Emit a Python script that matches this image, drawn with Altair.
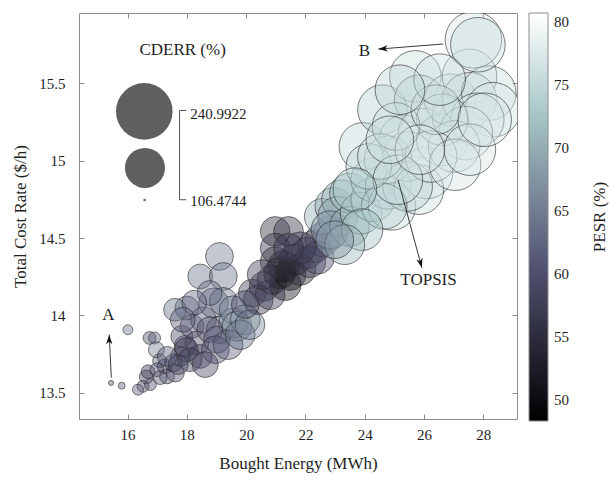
import altair as alt
import pandas as pd

# ---------------- data ----------------
bought_energy = [15.44, 15.80, 16.01, 16.74, 16.91, 16.97, 17.08, 16.63, 16.52, 16.35,
                 16.77, 16.69, 17.25, 16.99, 17.33, 17.61, 17.55, 17.78, 17.94, 17.83,
                 18.00, 18.17, 18.34, 18.45, 18.56, 18.90, 19.12, 19.57, 17.60, 18.45,
                 19.10, 19.23, 19.23, 19.56, 18.77, 18.25, 17.86, 18.77, 19.02, 19.69,
                 19.97, 17.98, 17.34, 18.11, 17.71, 17.10, 18.96, 19.39, 19.80, 20.13,
                 18.62, 20.21, 20.61, 20.87, 21.13, 21.26, 21.65, 22.05, 22.31, 22.57,
                 22.83, 20.41, 20.81, 21.32, 21.48, 21.82, 22.15, 22.42, 20.98, 20.54,
                 19.97, 21.82, 20.98, 21.43, 20.98, 21.43, 22.57, 22.96, 23.22, 23.09,
                 23.49, 22.83, 23.49, 23.88, 24.27, 24.27, 24.79, 24.92, 23.94, 24.60,
                 25.71, 25.84, 25.32, 25.97, 26.10, 25.45, 24.79, 26.62, 27.15, 26.89,
                 27.54, 27.54, 28.19, 28.33, 27.80, 27.41, 27.02, 27.67, 27.82, 25.83,
                 25.45, 24.66, 26.62, 26.24, 24.14, 24.53, 25.06, 25.12, 26.40, 27.05,
                 27.55, 28.05, 25.86, 24.85, 23.67, 23.91, 23.33, 22.99, 26.53, 25.19]
total_cost_rate = [13.565, 13.547, 13.908, 13.855, 13.855, 13.779, 13.708, 13.603, 13.543, 13.521,
                   13.554, 13.637, 13.672, 13.650, 13.607, 13.629, 13.694, 13.736, 13.801, 13.865,
                   14.048, 13.930, 13.823, 13.736, 13.973, 14.081, 13.908, 13.952, 14.037, 14.252,
                   14.381, 14.252, 14.091, 14.037, 14.145, 14.083, 13.973, 13.908, 13.844, 13.930,
                   13.973, 13.779, 13.736, 13.715, 13.683, 13.599, 13.779, 13.812, 13.876, 13.941,
                   13.683, 14.145, 14.188, 14.231, 14.274, 14.317, 14.360, 14.403, 14.446, 14.489,
                   14.532, 14.102, 14.134, 14.199, 14.264, 14.297, 14.347, 14.373, 14.347, 14.264,
                   14.070, 14.437, 14.542, 14.542, 14.435, 14.435, 14.639, 14.704, 14.747, 14.639,
                   14.790, 14.554, 14.575, 14.661, 14.747, 14.876, 14.833, 14.704, 15.091, 15.328,
                   15.543, 15.392, 15.134, 15.177, 14.919, 15.026, 15.005, 15.134, 15.285, 15.392,
                   15.543, 15.392, 15.435, 15.328, 15.263, 15.177, 15.091, 15.779, 15.747, 14.812,
                   14.833, 14.704, 15.263, 15.026, 14.962, 15.026, 15.220, 14.876, 15.328, 14.973,
                   15.070, 15.263, 15.070, 15.134, 14.812, 14.554, 14.457, 14.489, 15.522, 15.457]
cderr = [107.3, 108.2, 110.4, 113.2, 112.2, 116.8, 114.3, 114.3, 112.2, 111.3,
         112.2, 114.3, 115.5, 114.3, 115.5, 119.7, 119.7, 122.8, 126.3, 126.3,
         130.1, 130.1, 130.1, 130.1, 134.3, 143.5, 138.7, 143.5, 128.0, 132.1,
         138.7, 138.7, 138.7, 138.7, 132.1, 132.1, 132.1, 134.3, 136.5, 143.5,
         143.5, 130.1, 122.8, 130.1, 122.8, 114.3, 138.7, 143.5, 143.5, 143.5,
         134.3, 138.7, 143.5, 143.5, 148.7, 148.7, 148.7, 148.7, 151.4, 154.2,
         154.2, 143.5, 143.5, 148.7, 148.7, 148.7, 148.7, 151.4, 143.5, 143.5,
         138.7, 148.7, 143.5, 143.5, 143.5, 143.5, 160.0, 166.1, 172.6, 172.6,
         172.6, 166.1, 172.6, 179.4, 186.5, 186.5, 194.0, 201.8, 201.8, 209.9,
         218.4, 209.9, 209.9, 209.9, 218.4, 209.9, 201.8, 218.4, 218.4, 218.4,
         231.7, 231.7, 231.7, 231.7, 227.2, 227.2, 218.4, 241.0, 231.7, 209.9,
         209.9, 194.0, 218.4, 218.4, 194.0, 194.0, 201.8, 209.9, 209.9, 218.4,
         218.4, 227.2, 209.9, 201.8, 186.5, 179.4, 172.6, 166.1, 218.4, 209.9]
pesr = [62, 62, 64, 60, 62, 65, 62, 58, 60, 62,
        60, 57, 58, 60, 60, 60, 58, 58, 58, 60,
        63, 61, 60, 60, 62, 63, 62, 66, 64, 64,
        65, 64, 64, 66, 63, 63, 62, 61, 62, 68,
        68, 58, 62, 58, 59, 61, 60, 62, 64, 66,
        59, 58, 57, 56, 54, 50, 53, 56, 58, 62,
        64, 57, 58, 52, 51, 55, 57, 60, 55, 58,
        60, 57, 55, 56, 56, 57, 70, 70, 71, 69,
        72, 67, 70, 73, 74, 75, 75, 76, 75, 74,
        76, 75, 76, 77, 77, 77, 76, 77, 77, 76,
        77, 76, 76, 77, 77, 77, 77, 77, 76, 76,
        75, 74, 76, 77, 75, 76, 76, 76, 76, 77,
        77, 77, 77, 76, 73, 72, 71, 68, 76, 75]

x_ticks = [16, 18, 20, 22, 24, 26, 28]
y_ticks = [13.5, 14, 14.5, 15, 15.5]
pesr_ticks = [50, 55, 60, 65, 70, 75, 80]

# bubble-size legend (CDERR)
legend_sizes = [240.9922, 173.7333, 106.4744]
legend_x = [16.563, 16.586, 16.573]
legend_y = [15.317, 14.952, 14.745]
legend_labels = ["240.9922", "106.4744"]
legend_label_x = [18.113, 18.113]
legend_label_y = [15.300, 14.741]
bracket_x = [17.753, 17.753, 17.753]
bracket_y = [15.323, 15.323, 14.747]
bracket_x2 = [17.753, 17.978, 17.978]
bracket_y2 = [14.747, 15.323, 14.747]

# annotations
note_text = ["A", "B", "TOPSIS", "CDERR (%)"]
note_x = [15.35, 23.99, 26.155, 17.857]
note_y = [14.00, 15.71, 14.231, 15.715]
arrow_x = [15.45, 26.65, 25.124]
arrow_y = [13.599, 15.752, 14.876]
arrow_x2 = [15.38, 24.46, 25.93]
arrow_y2 = [13.876, 15.719, 14.308]
arrow_angle = [0, 265.6, 164.7]

X_DOMAIN = [14.36, 29.14]
Y_DOMAIN = [13.332, 15.952]
SIZE_DOMAIN = [106.4744, 240.9922]
PESR_DOMAIN = [48.3, 60.47, 72.64, 80.75]
BONE = ["#000000", "#515171", "#a6c6c6", "#ffffff"]

FONT = "Liberation Serif"
TXT = "#1e1e1e"
FRAME = "#8c8c8c"

df = pd.DataFrame({"be": bought_energy, "tcr": total_cost_rate, "cderr": cderr, "pesr": pesr})
leg_df = pd.DataFrame({"x": legend_x, "y": legend_y, "s": legend_sizes})
leg_lab = pd.DataFrame({"x": legend_label_x, "y": legend_label_y, "t": legend_labels})
br_df = pd.DataFrame({"x": bracket_x, "y": bracket_y, "x2": bracket_x2, "y2": bracket_y2})
note_df = pd.DataFrame({"x": note_x, "y": note_y, "t": note_text})
arr_df = pd.DataFrame({"x": arrow_x, "y": arrow_y, "x2": arrow_x2, "y2": arrow_y2, "a": arrow_angle})

xs = alt.Scale(domain=X_DOMAIN, nice=False, zero=False)
ys = alt.Scale(domain=Y_DOMAIN, nice=False, zero=False)
ss = alt.Scale(domain=SIZE_DOMAIN, range=[6, 3200], zero=False)
cs = alt.Scale(domain=PESR_DOMAIN, range=BONE, interpolate="rgb")

ax_common = dict(domain=False, tickSize=5, offset=-5, tickColor=FRAME, tickWidth=1, grid=False,
                 labelFont=FONT, labelFontSize=15, labelColor=TXT,
                 titleFont=FONT, titleFontSize=17, titleFontWeight="normal", titleColor=TXT)

bubbles = alt.Chart(df).mark_circle(
    opacity=1, fillOpacity=0.42, stroke="#2a2a2a", strokeOpacity=0.6, strokeWidth=1, clip=True
).encode(
    x=alt.X("be:Q", scale=xs, axis=alt.Axis(orient="bottom", values=x_ticks, format="d",
                                             title="Bought Energy (MWh)", labelPadding=8,
                                             titlePadding=13, **ax_common)),
    y=alt.Y("tcr:Q", scale=ys, axis=alt.Axis(orient="left", values=y_ticks, format="~g",
                                              title="Total Cost Rate ($/h)", labelPadding=14,
                                              titlePadding=9, **ax_common)),
    size=alt.Size("cderr:Q", scale=ss, legend=None),
    fill=alt.Fill("pesr:Q", scale=cs, legend=alt.Legend(
        orient="none", legendX=450, legendY=0, direction="vertical",
        gradientLength=408, gradientThickness=19, title=None, values=pesr_ticks,
        labelFont=FONT, labelFontSize=15, labelColor=TXT, labelOffset=6,
        labelOverlap=False, gradientStrokeColor=FRAME, gradientStrokeWidth=1, padding=0)),
)

leg_circles = alt.Chart(leg_df).mark_circle(opacity=1, color="#5f5f5f").encode(
    x=alt.X("x:Q", scale=xs, axis=None),
    y=alt.Y("y:Q", scale=ys, axis=None),
    size=alt.Size("s:Q", scale=ss, legend=None),
)

tick_ax = dict(domain=False, tickSize=5, offset=-5, tickColor=FRAME, tickWidth=1, grid=False,
               labels=False, title=None)
bracket = alt.Chart(br_df).mark_rule(color="#555555", strokeWidth=1).encode(
    x=alt.X("x:Q", scale=xs, axis=alt.Axis(orient="top", values=x_ticks, **tick_ax)),
    y=alt.Y("y:Q", scale=ys, axis=alt.Axis(orient="right", values=y_ticks, **tick_ax)),
    x2="x2:Q", y2="y2:Q",
)

leg_text = alt.Chart(leg_lab).mark_text(align="left", baseline="middle", font=FONT,
                                        fontSize=15, color=TXT).encode(
    x=alt.X("x:Q", scale=xs, axis=None), y=alt.Y("y:Q", scale=ys, axis=None), text="t:N")

notes = alt.Chart(note_df).mark_text(align="center", baseline="middle", font=FONT,
                                     fontSize=17, color=TXT).encode(
    x=alt.X("x:Q", scale=xs, axis=None), y=alt.Y("y:Q", scale=ys, axis=None), text="t:N")

arrows = alt.Chart(arr_df).mark_rule(color="#222222", strokeWidth=0.9).encode(
    x=alt.X("x:Q", scale=xs, axis=None), y=alt.Y("y:Q", scale=ys, axis=None),
    x2="x2:Q", y2="y2:Q")

HEAD = "M0,0L-0.6,1.8L0,1.3L0.6,1.8Z"
heads = alt.Chart(arr_df).mark_point(shape=HEAD, filled=True, size=110, color="#111111",
                                     opacity=1).encode(
    x=alt.X("x2:Q", scale=xs, axis=None), y=alt.Y("y2:Q", scale=ys, axis=None),
    angle=alt.Angle("a:Q", scale=None))

pesr_title = alt.Chart(pd.DataFrame({"t": ["PESR (%)"]})).mark_text(
    angle=270, align="center", baseline="middle", font=FONT, fontSize=17, color=TXT
).encode(x=alt.value(521), y=alt.value(204), text="t:N")

chart = alt.layer(bubbles, leg_circles, bracket, leg_text, notes, arrows, heads, pesr_title).resolve_axis(
    x="independent", y="independent"
).properties(
    width=438, height=406,
    autosize=alt.AutoSizeParams(type="none"),
    padding={"left": 79, "top": 13, "right": 92, "bottom": 74},
    background="white",
).configure_view(stroke=FRAME, strokeWidth=1)

chart.save("out.html", embed_options={"renderer": "svg", "actions": False})
